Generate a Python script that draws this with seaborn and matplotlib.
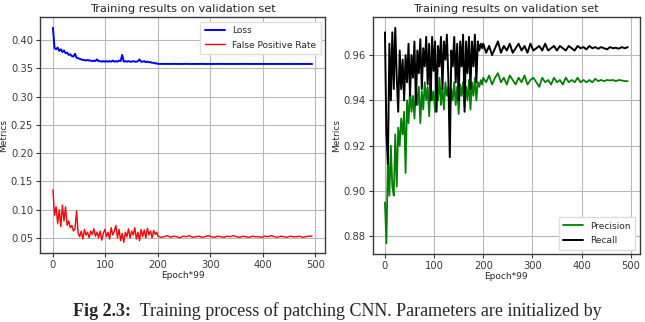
import numpy as np
import pandas as pd
import matplotlib
matplotlib.use('Agg')
import matplotlib.pyplot as plt
import seaborn as sns

# epochs sampled from the curves (dense in the noisy part, sparser afterwards)
epochs = np.r_[np.arange(0, 200, 3), np.arange(200, 498, 6)]

loss = [0.422, 0.386, 0.384, 0.387, 0.381, 0.384, 0.379, 0.382, 0.377, 0.378,
        0.374, 0.375, 0.372, 0.371, 0.376, 0.369, 0.368, 0.367, 0.366, 0.365,
        0.365, 0.364, 0.365, 0.364, 0.364, 0.363, 0.364, 0.363, 0.366, 0.363,
        0.363, 0.362, 0.363, 0.362, 0.363, 0.362, 0.363, 0.362, 0.364, 0.362,
        0.363, 0.362, 0.364, 0.363, 0.374, 0.362, 0.363, 0.362, 0.363, 0.362,
        0.362, 0.363, 0.362, 0.362, 0.363, 0.366, 0.362, 0.362, 0.363, 0.361,
        0.362, 0.361, 0.361, 0.360, 0.360, 0.359, 0.359,
        0.3582, 0.3580, 0.3581, 0.3579, 0.3580, 0.3581, 0.3580, 0.3579, 0.3580, 0.3581,
        0.3580, 0.3579, 0.3580, 0.3580, 0.3581, 0.3579, 0.3580, 0.3580, 0.3579, 0.3580,
        0.3581, 0.3580, 0.3579, 0.3580, 0.3580, 0.3579, 0.3580, 0.3581, 0.3580, 0.3579,
        0.3580, 0.3580, 0.3579, 0.3580, 0.3580, 0.3579, 0.3580, 0.3580, 0.3579, 0.3580,
        0.3580, 0.3579, 0.3580, 0.3580, 0.3579, 0.3580, 0.3579, 0.3580, 0.3579, 0.3579]

fpr = [0.135, 0.090, 0.105, 0.075, 0.100, 0.070, 0.108, 0.080, 0.105, 0.072,
       0.080, 0.068, 0.072, 0.062, 0.066, 0.098, 0.058, 0.052, 0.062, 0.048,
       0.065, 0.055, 0.060, 0.050, 0.062, 0.056, 0.066, 0.053, 0.060, 0.050,
       0.062, 0.046, 0.058, 0.065, 0.052, 0.060, 0.048, 0.068, 0.055, 0.062,
       0.072, 0.050, 0.065, 0.045, 0.058, 0.042, 0.060, 0.052, 0.066, 0.050,
       0.062, 0.055, 0.068, 0.048, 0.060, 0.045, 0.065, 0.052, 0.064, 0.050,
       0.067, 0.055, 0.062, 0.050, 0.063, 0.056, 0.060,
       0.053, 0.051, 0.052, 0.054, 0.051, 0.053, 0.052, 0.050, 0.053, 0.052,
       0.054, 0.051, 0.052, 0.053, 0.051, 0.052, 0.054, 0.052, 0.051, 0.053,
       0.052, 0.051, 0.053, 0.052, 0.054, 0.052, 0.051, 0.053, 0.052, 0.051,
       0.053, 0.052, 0.052, 0.051, 0.053, 0.052, 0.054, 0.052, 0.051, 0.053,
       0.052, 0.051, 0.053, 0.052, 0.052, 0.053, 0.051, 0.052, 0.053, 0.053]

precision = [0.895, 0.877, 0.915, 0.898, 0.920, 0.902, 0.898, 0.925, 0.902, 0.928,
             0.920, 0.932, 0.925, 0.935, 0.908, 0.940, 0.930, 0.945, 0.935, 0.942,
             0.932, 0.945, 0.938, 0.946, 0.930, 0.944, 0.936, 0.948, 0.940, 0.946,
             0.933, 0.948, 0.940, 0.944, 0.935, 0.947, 0.940, 0.950, 0.938, 0.946,
             0.936, 0.948, 0.942, 0.946, 0.935, 0.945, 0.940, 0.948, 0.938, 0.946,
             0.934, 0.947, 0.942, 0.948, 0.937, 0.946, 0.940, 0.949, 0.936, 0.948,
             0.942, 0.950, 0.940, 0.948, 0.946, 0.949, 0.947,
             0.950, 0.948, 0.951, 0.947, 0.950, 0.952, 0.948, 0.950, 0.947, 0.951,
             0.949, 0.947, 0.950, 0.948, 0.951, 0.947, 0.949, 0.950, 0.948, 0.946,
             0.950, 0.948, 0.949, 0.947, 0.950, 0.948, 0.949, 0.947, 0.950, 0.948,
             0.949, 0.948, 0.950, 0.948, 0.949, 0.948, 0.949, 0.948, 0.9495, 0.9485,
             0.949, 0.9485, 0.949, 0.9488, 0.949, 0.9485, 0.949, 0.9488, 0.9485, 0.9485]

recall = [0.970, 0.925, 0.912, 0.965, 0.940, 0.970, 0.945, 0.972, 0.950, 0.935,
          0.962, 0.945, 0.958, 0.940, 0.960, 0.948, 0.965, 0.942, 0.960, 0.950,
          0.966, 0.938, 0.962, 0.952, 0.967, 0.945, 0.963, 0.955, 0.968, 0.947,
          0.965, 0.940, 0.968, 0.953, 0.966, 0.935, 0.964, 0.955, 0.968, 0.945,
          0.966, 0.958, 0.969, 0.950, 0.915, 0.962, 0.955, 0.968, 0.948, 0.965,
          0.940, 0.966, 0.955, 0.969, 0.935, 0.966, 0.952, 0.968, 0.945, 0.966,
          0.955, 0.969, 0.948, 0.966, 0.962, 0.965, 0.963,
          0.965, 0.961, 0.964, 0.960, 0.963, 0.966, 0.961, 0.964, 0.962, 0.965,
          0.961, 0.963, 0.965, 0.962, 0.964, 0.961, 0.965, 0.962, 0.963, 0.964,
          0.962, 0.965, 0.962, 0.963, 0.964, 0.962, 0.964, 0.963, 0.962, 0.964,
          0.963, 0.962, 0.964, 0.963, 0.9635, 0.9625, 0.964, 0.963, 0.9635, 0.9628,
          0.9635, 0.963, 0.9625, 0.9635, 0.963, 0.9632, 0.9628, 0.9635, 0.963, 0.9635]

left_df = pd.DataFrame({'epoch': epochs, 'Loss': loss, 'False Positive Rate': fpr})
right_df = pd.DataFrame({'epoch': epochs, 'Precision': precision, 'Recall': recall})

sns.set_style('whitegrid', {'axes.edgecolor': '#3a3a3a', 'grid.color': '#b8b8b8',
                            'xtick.bottom': True, 'ytick.left': True})
plt.rcParams['font.family'] = ['DejaVu Sans']
plt.rcParams['xtick.major.size'] = 3
plt.rcParams['ytick.major.size'] = 3
plt.rcParams['xtick.color'] = '#3a3a3a'
plt.rcParams['ytick.color'] = '#3a3a3a'

fig = plt.figure(figsize=(6.45, 3.22), dpi=100)
ax1 = fig.add_axes([0.062, 0.214, 0.442, 0.733])
ax2 = fig.add_axes([0.578, 0.211, 0.414, 0.736])

sns.lineplot(data=left_df, x='epoch', y='Loss', color='blue', lw=1.4, label='Loss', ax=ax1)
sns.lineplot(data=left_df, x='epoch', y='False Positive Rate', color='red', lw=1.0,
             label='False Positive Rate', ax=ax1)
sns.lineplot(data=right_df, x='epoch', y='Precision', color='green', lw=1.3, label='Precision', ax=ax2)
sns.lineplot(data=right_df, x='epoch', y='Recall', color='black', lw=1.4, label='Recall', ax=ax2)

ax1.set_yticks([0.05, 0.10, 0.15, 0.20, 0.25, 0.30, 0.35, 0.40])
ax1.set_yticklabels(['0.05', '0.10', '0.15', '0.20', '0.25', '0.30', '0.35', '0.40'])
ax2.set_yticks([0.88, 0.90, 0.92, 0.94, 0.96])
ax2.set_yticklabels(['0.88', '0.90', '0.92', '0.94', '0.96'])

for ax, loc in [(ax1, 'upper right'), (ax2, 'lower right')]:
    ax.set_xticks([0, 100, 200, 300, 400, 500])
    ax.tick_params(labelsize=7.2, pad=2, width=0.8)
    ax.set_title('Training results on validation set', fontsize=8.2, pad=4)
    ax.set_xlabel('Epoch*99', fontsize=6.5, labelpad=1)
    ax.set_ylabel('Metrics', fontsize=6.5, labelpad=2)
    ax.grid(True, lw=0.8)
    for s in ax.spines.values():
        s.set_linewidth(1.0)
    ax.legend(loc=loc, fontsize=6.5, frameon=True, fancybox=False, framealpha=1,
              edgecolor='#dddddd', handlelength=2.2, borderpad=0.5, labelspacing=0.6)

cap_y = 0.018
cap = fig.text(73 / 645, cap_y, 'Fig 2.3:', fontsize=13, fontweight='bold',
               family='Liberation Serif', va='baseline', ha='left')
fig.canvas.draw()
bb = cap.get_window_extent()
fig.text(bb.x1 / fig.bbox.width, cap_y, '  Training process of patching CNN. Parameters are initialized by',
         fontsize=13, family='Liberation Serif', va='baseline', ha='left')

fig.savefig('out.png', dpi=100)
